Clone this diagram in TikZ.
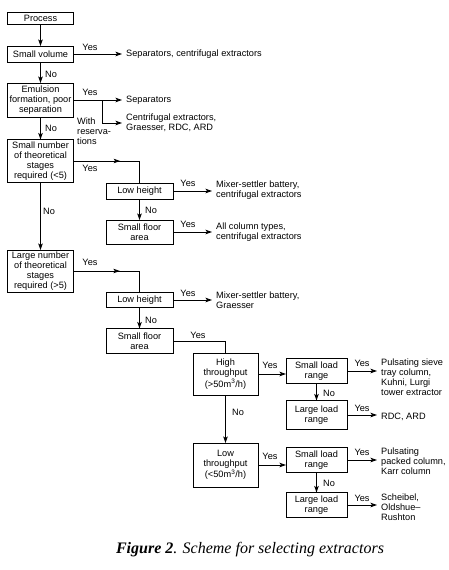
\documentclass[tikz,border=0pt]{standalone}
\usepackage{fontspec}
\setmainfont{Liberation Sans}
\newfontfamily\capfont{Liberation Serif}
\usetikzlibrary{arrows.meta,decorations.markings}
\tikzset{
  box/.style={draw=black, line width=0.6pt, align=center, inner sep=0pt, outer sep=0pt},
  conn/.style={line width=0.9pt, -{Stealth[length=6.5pt,width=4.5pt,inset=1.5pt]}},
  plainline/.style={line width=0.9pt},
  res/.style={anchor=west, align=left, inner xsep=4pt, inner ysep=0pt},
  lbl/.style={inner sep=0pt},
  midarrow/.style={line width=0.9pt, postaction={decorate},
    decoration={markings, mark=at position #1 with {\arrow{Stealth[length=6.5pt,width=4.5pt,inset=1.5pt]}}}},
}
\begin{document}
\begin{tikzpicture}[x=1pt, y=-1pt, font=\fontsize{9.2}{10}\selectfont]
\useasboundingbox (0,0) rectangle (449,570);

% left column
\node[box, minimum width=66pt, minimum height=12pt] (pr) at (40.5,18) {Process};
\node[box, minimum width=66pt, minimum height=16pt] (sv) at (40.5,54) {Small volume};
\node[box, minimum width=66pt, minimum height=34pt] (em) at (40.5,100) {Emulsion\\formation, poor\\separation};
\node[box, minimum width=66pt, minimum height=43pt] (sn) at (40.5,161) {Small number\\of theoretical\\stages\\required (<5)};
\node[box, minimum width=66pt, minimum height=42pt] (ln) at (40.5,271) {Large number\\of theoretical\\stages\\required (>5)};

% second column
\node[box, minimum width=67pt, minimum height=16pt] (lh1) at (139.5,191) {Low height};
\node[box, minimum width=67pt, minimum height=24pt] (sf1) at (139.5,232) {Small floor\\area};
\node[box, minimum width=67pt, minimum height=15pt] (lh2) at (139.5,300) {Low height};
\node[box, minimum width=67pt, minimum height=25pt] (sf2) at (139.5,341) {Small floor\\area};

% third column
\node[box, minimum width=65pt, minimum height=42pt] (ht) at (225.5,374) {High\\throughput\\(>50m\textsuperscript{3}/h)};
\node[box, minimum width=65pt, minimum height=44pt] (lt) at (225.5,465) {Low\\throughput\\(<50m\textsuperscript{3}/h)};

% fourth column
\node[box, minimum width=61pt, minimum height=25pt] (sl1) at (316.5,371) {Small load\\range};
\node[box, minimum width=61pt, minimum height=29pt] (ll1) at (316.5,415) {Large load\\range};
\node[box, minimum width=61pt, minimum height=25pt] (sl2) at (316.5,460) {Small load\\range};
\node[box, minimum width=61pt, minimum height=25pt] (ll2) at (316.5,505) {Large load\\range};

% results
\node[res] (r1) at (122,54) {Separators, centrifugal extractors};
\node[res] (r2) at (122,100) {Separators};
\node[res] (r3) at (122,123) {Centrifugal extractors,\\Graesser, RDC, ARD};
\node[res] (r4) at (212,190) {Mixer-settler battery,\\centrifugal extractors};
\node[res] (r5) at (212,232) {All column types,\\centrifugal extractors};
\node[res] (r6) at (212,300) {Mixer-settler battery,\\Graesser};
\node[res] (r7) at (377,377) {Pulsating sieve\\tray column,\\Kuhni, Lurgi\\tower extractor};
\node[res] (r8) at (377,417) {RDC, ARD};
\node[res] (r9) at (377,461) {Pulsating\\packed column,\\Karr column};
\node[res] (r10) at (377,507) {Scheibel,\\Oldshue--\\Rushton};

% connectors, left column
\draw[conn] (pr) -- (sv);
\draw[conn] (sv) -- (em);
\draw[conn] (em) -- (sn);
\draw[conn] (sn) -- (ln);
\draw[conn] (sv.east) -- (sv.east -| r1.west);
\draw[conn] (em.east) -- (em.east -| r2.west);
\coordinate (br) at (102,100);
\draw[conn] (br) |- (r3.west);
\draw[midarrow=0.53] (sn.east) -| (lh1.north);
\draw[midarrow=0.53] (ln.east) -| (lh2.north);

% second column
\draw[conn] (lh1) -- (sf1);
\draw[conn] (lh2) -- (sf2);
\draw[conn] (lh1.east) -- (lh1.east -| r4.west);
\draw[conn] (sf1.east) -- (sf1.east -| r5.west);
\draw[conn] (lh2.east) -- (lh2.east -| r6.west);
\draw[plainline] (sf2.east) -| (ht.north);

% third and fourth columns
\draw[conn] (ht) -- (lt);
\draw[conn] (ht.east) -- (ht.east -| sl1.west);
\draw[conn] (lt.east) -- (lt.east -| sl2.west);
\draw[conn] (sl1) -- (ll1);
\draw[conn] (sl2) -- (ll2);
\draw[conn] (sl1.east) -- (sl1.east -| r7.west);
\draw[conn] (ll1.east) -- (ll1.east -| r8.west);
\draw[conn] (sl2.east) -- (sl2.east -| r9.west);
\draw[conn] (ll2.east) -- (ll2.east -| r10.west);

% labels
\node[lbl] (y1) at (90,47) {Yes};
\node[lbl] (n1) at (51,74) {No};
\node[lbl] (y2) at (90,92) {Yes};
\node[lbl, anchor=west, align=left] (wr) at (77,131) {With\\reserva-\\tions};
\node[lbl] (n2) at (51,128) {No};
\node[lbl] (y3) at (90,168) {Yes};
\node[lbl] (n3) at (49,211) {No};
\node[lbl] (y4) at (90,262) {Yes};
\node[lbl] (y5) at (188,183) {Yes};
\node[lbl] (n4) at (151,210) {No};
\node[lbl] (y6) at (188,224) {Yes};
\node[lbl] (y7) at (188,293) {Yes};
\node[lbl] (n5) at (151,320) {No};
\node[lbl] (y8) at (198,335) {Yes};
\node[lbl] (y9) at (270,365) {Yes};
\node[lbl] (y10) at (362,363) {Yes};
\node[lbl] (n6) at (329,393) {No};
\node[lbl] (y11) at (362,408) {Yes};
\node[lbl] (n7) at (238,412) {No};
\node[lbl] (y12) at (270,456) {Yes};
\node[lbl] (y13) at (362,452) {Yes};
\node[lbl] (n8) at (329,483) {No};
\node[lbl] (y14) at (362,498) {Yes};

% caption
\node[anchor=base, inner sep=0pt, font=\capfont\fontsize{16}{18}\selectfont] (cap) at (250,553)
  {\textbf{\textit{Figure 2}}\textit{. Scheme for selecting extractors}};
\end{tikzpicture}
\end{document}
